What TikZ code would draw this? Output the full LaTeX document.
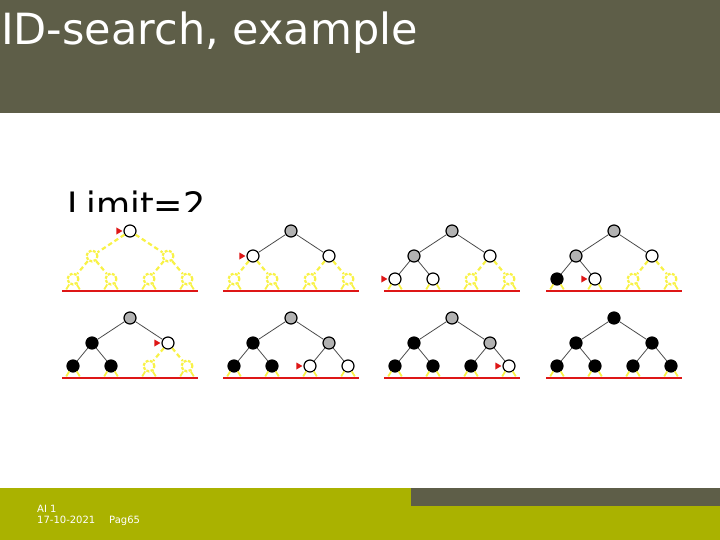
\documentclass[tikz,border=0pt]{standalone}
\usepackage{fontspec}
\setmainfont{DejaVu Sans}
\usepackage{tikz}

\definecolor{oliva}{RGB}{94,94,72}
\definecolor{verdepie}{RGB}{170,178,0}
\definecolor{amarillo}{RGB}{248,242,70}
\definecolor{rojo}{RGB}{222,22,22}
\definecolor{grisnodo}{RGB}{178,178,178}

\tikzset{
  nodo/.style={circle, draw=black, line width=1.2pt, minimum size=12pt, inner sep=0pt},
  abierto/.style={nodo, fill=white},
  gris/.style={nodo, fill=grisnodo},
  negro/.style={nodo, fill=black},
  fantasma/.style={circle, draw=amarillo, line width=2.2pt, dash pattern=on 3pt off 1.5pt, minimum size=11pt, inner sep=0pt},
  arista abierto/.style={draw=black!70, line width=0.8pt},
  arista gris/.style={arista abierto},
  arista negro/.style={arista abierto},
  arista fantasma/.style={draw=amarillo, line width=2.2pt, dash pattern=on 4.5pt off 3pt},
  rabo/.style={draw=amarillo, line width=1.8pt},
  limite/.style={draw=rojo, line width=2pt},
  puntero/.style={fill=rojo}
}

% un arbol binario de profundidad 2
\newcommand{\arbol}[9]{%
  \begin{scope}[shift={#2}]
    \node[#3] (#1r) at (0,0) {};
    \node[#4] (#1a) at (-38,25) {};
    \node[#5] (#1b) at (38,25) {};
    \node[#6] (#1aa) at (-57,48) {};
    \node[#7] (#1ab) at (-19,48) {};
    \node[#8] (#1ba) at (19,48) {};
    \node[#9] (#1bb) at (57,48) {};
    \coordinate (#1i) at (-68,60);
    \coordinate (#1d) at (68,60);
    \draw[arista #4] (#1r) -- (#1a);
    \draw[arista #5] (#1r) -- (#1b);
    \draw[arista #6] (#1a) -- (#1aa);
    \draw[arista #7] (#1a) -- (#1ab);
    \draw[arista #8] (#1b) -- (#1ba);
    \draw[arista #9] (#1b) -- (#1bb);
    \foreach \h in {aa,ab,ba,bb} {
      \draw[rabo] (#1\h.235) -- ++(-3,5);
      \draw[rabo] (#1\h.305) -- ++(3,5);
    }
    \draw[limite] (#1i) -- (#1d); % limite de profundidad
  \end{scope}}

\newcommand{\puntero}[1]{\fill[puntero] ([xshift=-1pt]#1.west) -- ++(-6,-3.5) -- ++(0,7) -- cycle;}

\begin{document}
\begin{tikzpicture}[x=1pt, y=-1pt]

  \useasboundingbox (0,0) rectangle (720,540);

  % cabecera
  \fill[oliva] (0,0) rectangle (720,113);
  \node[anchor=base west, inner sep=0pt, text=white, font=\fontsize{43}{50}\selectfont] (titulo) at (1,45) {ID-search, example};

  % pie
  \fill[verdepie] (0,488) rectangle (720,540);
  \fill[oliva] (411,488) rectangle (720,506);
  \node[anchor=base west, inner sep=0pt, text=white, font=\fontsize{10}{12}\selectfont] (pie1) at (37,512) {AI 1};
  \node[anchor=base west, inner sep=0pt, text=white, font=\fontsize{10}{12}\selectfont] (pie2) at (37,523) {17-10-2021};
  \node[anchor=base west, inner sep=0pt, text=white, font=\fontsize{10}{12}\selectfont] (pie3) at (109,523) {Pag65};

  % Limit=2, cortado por la imagen
  \begin{scope}
    \clip (0,150) rectangle (720,212);
    \node[anchor=base west, inner sep=0pt, font=\fontsize{35}{42}\selectfont] (limite) at (67,218) {Limit=2};
  \end{scope}

  % fila de arriba
  \arbol{ta}{(130,231)}{abierto}{fantasma}{fantasma}{fantasma}{fantasma}{fantasma}{fantasma}
  \arbol{tb}{(291,231)}{gris}{abierto}{abierto}{fantasma}{fantasma}{fantasma}{fantasma}
  \arbol{tc}{(452,231)}{gris}{gris}{abierto}{abierto}{abierto}{fantasma}{fantasma}
  \arbol{td}{(614,231)}{gris}{gris}{abierto}{negro}{abierto}{fantasma}{fantasma}

  % fila de abajo
  \arbol{te}{(130,318)}{gris}{negro}{abierto}{negro}{negro}{fantasma}{fantasma}
  \arbol{tf}{(291,318)}{gris}{negro}{gris}{negro}{negro}{abierto}{abierto}
  \arbol{tg}{(452,318)}{gris}{negro}{gris}{negro}{negro}{negro}{abierto}
  \arbol{th}{(614,318)}{negro}{negro}{negro}{negro}{negro}{negro}{negro}

  % nodo actual
  \puntero{tar}
  \puntero{tba}
  \puntero{tcaa}
  \puntero{tdab}
  \puntero{teb}
  \puntero{tfba}
  \puntero{tgbb}

\end{tikzpicture}
\end{document}
